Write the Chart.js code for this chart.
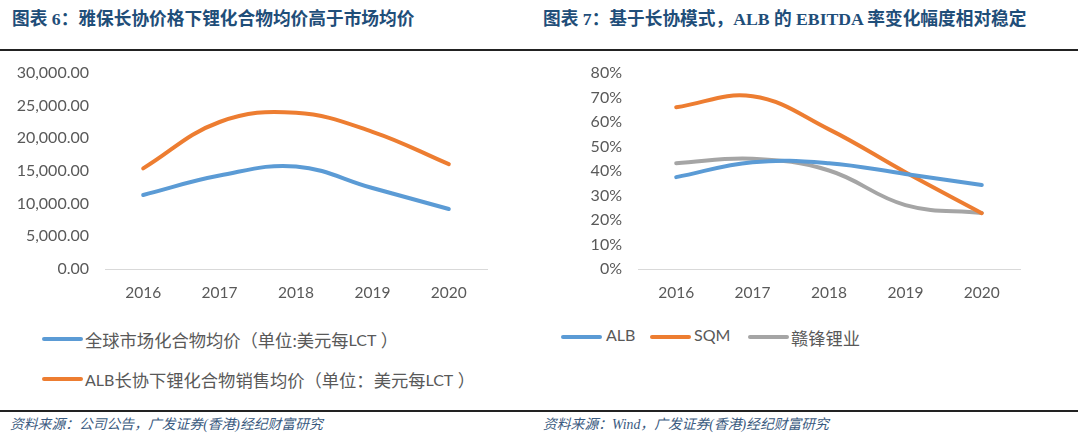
<!DOCTYPE html>
<html>
<head>
<meta charset="utf-8">
<script src="https://cdn.jsdelivr.net/npm/chart.js@4"></script>
<style>
  html, body { margin:0; padding:0; background:#fff; }
  body { width:1080px; height:433px; position:relative; overflow:hidden; font-family:"Noto Sans CJK SC", sans-serif; }
  .title { position:absolute; top:4px; font-family:"Liberation Serif","Noto Sans CJK SC",serif; font-weight:bold; font-size:17.7px; color:#1F4E79; white-space:nowrap; }
  .rule { position:absolute; left:0; width:1078px; background:#222; }
  .src { position:absolute; top:413px; font-family:"Liberation Serif","Noto Sans CJK SC",serif; font-style:italic; font-size:13.8px; color:#3A5A80; white-space:nowrap; }
  .cv { position:absolute; top:40px; width:540px; height:270px; }
  .leg { position:absolute; font-size:17.3px; color:#595959; white-space:nowrap; display:flex; align-items:center; font-family:"Lato","Noto Sans CJK SC",sans-serif; }
  .lat { font-family:"Lato",sans-serif; font-size:16px; }
  .sw { position:absolute; height:4px; border-radius:2px; width:41px; }
</style>
</head>
<body>
<div class="title" style="left:12px;">图表 6：雅保长协价格下锂化合物均价高于市场均价</div>
<div class="title" style="left:543px;">图表 7：基于长协模式，ALB 的 EBITDA 率变化幅度相对稳定</div>
<div class="rule" style="top:49px;height:2px;"></div>
<div class="cv" style="left:0;"><canvas id="c1" width="540" height="270"></canvas></div>
<div class="cv" style="left:540px;"><canvas id="c2" width="540" height="270"></canvas></div>

<span class="sw" style="background:#5B9BD5;left:42px;top:337px;"></span>
<div class="leg" style="left:85px;top:327px;">全球市场化合物均价（单位:美元每<span class="lat">LCT</span>&nbsp;）</div>
<span class="sw" style="background:#ED7D31;left:42px;top:377px;"></span>
<div class="leg" style="left:85px;top:367px;"><span class="lat">ALB</span>长协下锂化合物销售均价（单位：美元每<span class="lat">LCT</span>&nbsp;）</div>

<span class="sw" style="background:#5B9BD5;left:561px;top:335px;"></span>
<div class="leg" style="left:606px;top:325px;"><span class="lat">ALB</span></div>
<span class="sw" style="background:#ED7D31;left:650px;top:335px;"></span>
<div class="leg" style="left:694px;top:325px;"><span class="lat">SQM</span></div>
<span class="sw" style="background:#A5A5A5;left:748px;top:335px;"></span>
<div class="leg" style="left:791px;top:325px;">赣锋锂业</div>

<div class="rule" style="top:410px;height:2px;"></div>
<div class="src" style="left:10px;">资料来源：公司公告，广发证券(香港)经纪财富研究</div>
<div class="src" style="left:543px;">资料来源：Wind，广发证券(香港)经纪财富研究</div>

<script>
const years = ["2016","2017","2018","2019","2020"];
const globalPrice = [11330, 14300, 15700, 12400, 9180];
const albPrice = [15400, 22500, 23900, 21000, 16050];
const albEbitda = [37.5, 43.6, 43.2, 38.8, 34.3];
const sqmEbitda = [66.0, 70.5, 57.0, 39.5, 22.8];
const ganfengEbitda = [43.2, 45.0, 40.2, 26.1, 22.9];

const fontY = { family: "Lato, 'Noto Sans CJK SC', sans-serif", size: 16 };
const fontX = { family: "Lato, 'Noto Sans CJK SC', sans-serif", size: 15.5 };
const tickColor = "#595959";

function ds(data, color) {
  return { data, borderColor: color, backgroundColor: color, borderWidth: 4, pointRadius: 0,
           tension: 0.4, borderCapStyle: 'round', borderJoinStyle: 'round', fill: false };
}

function makeOpts(yMax, yStep, yFmt, yWidth, padRight) {
  return {
    responsive: false, animation: false, devicePixelRatio: 1,
    layout: { padding: { top: 33, right: padRight, left: 0, bottom: 0 } },
    plugins: { legend: { display: false }, tooltip: { enabled: false } },
    scales: {
      x: {
        offset: true,
        grid: { display: false, drawTicks: false },
        border: { display: true, color: "#D9D9D9", width: 1 },
        ticks: { color: tickColor, font: fontX, padding: 15 },
        afterFit: s => { s.height = 41; }
      },
      y: {
        min: 0, max: yMax,
        grid: { display: false, drawTicks: false },
        border: { display: false },
        ticks: { stepSize: yStep, color: tickColor, font: fontY, padding: 16, callback: yFmt },
        afterFit: s => { s.width = yWidth; }
      }
    }
  };
}

new Chart(document.getElementById('c1'), {
  type: 'line',
  data: { labels: years, datasets: [ds(globalPrice, '#5B9BD5'), ds(albPrice, '#ED7D31')] },
  options: makeOpts(30000, 5000, v => Number(v).toLocaleString('en-US', {minimumFractionDigits:2, maximumFractionDigits:2}), 105, 53)
});

new Chart(document.getElementById('c2'), {
  type: 'line',
  data: { labels: years, datasets: [ds(albEbitda, '#5B9BD5'), ds(sqmEbitda, '#ED7D31'), ds(ganfengEbitda, '#A5A5A5')] },
  options: makeOpts(80, 10, v => v + '%', 98, 60)
});
</script>
</body>
</html>
